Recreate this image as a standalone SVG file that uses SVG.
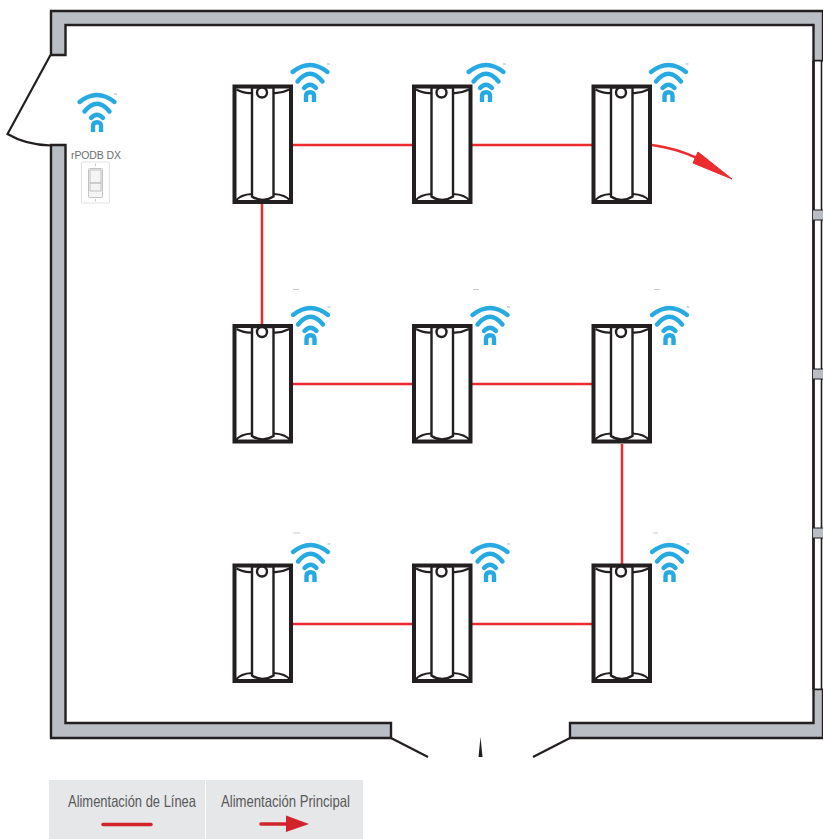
<svg xmlns="http://www.w3.org/2000/svg" width="823" height="839" viewBox="0 0 823 839">
<style>
.wall{fill:#b9bec5;stroke:#231f20;stroke-width:2.4;stroke-linejoin:miter}
.line{fill:none;stroke:#231f20;stroke-width:2.2}
.win{fill:none;stroke:#231f20}
.feed{fill:none;stroke:#ed2a2e;stroke-width:2.5}
.lum-o{fill:#fff;stroke:#231f20;stroke-width:4}
.lum-i{fill:#fff;stroke:#231f20;stroke-width:2.4}
.wf{fill:none;stroke:#27a9e1;stroke-width:4.400;stroke-linecap:round}
.wfn{fill:none;stroke:#27a9e1;stroke-width:4.400}
.tm{fill:none;stroke:#9fb8c6;stroke-width:1}
.tick{stroke:#bbbbbb;stroke-width:.8}
.lg{font-family:"Liberation Sans",sans-serif;font-size:16.500px;fill:#58595b}
.plate{fill:#fff;stroke:#d9dadb;stroke-width:.8}
.sw{fill:#f4f4f4;stroke:#b5b5b5;stroke-width:.8}
</style>
<defs>
<g id="lum">
<rect class="lum-o" x="2" y="2" width="56.500" height="115.500"/>
<path class="line" d="M4 5Q11 9 19.500 8.500M57 5Q49 9 41 8.500M3 116.500Q8 110 19.500 109.500M58 116.500Q53 110 41 109.500"/>
<path class="lum-i" d="M19.500 3V112Q30 119 41 112V3Z"/>
<circle class="lum-i" cx="29.500" cy="8" r="5"/>
</g>
<g id="wifi">
<path class="wf" d="M-17.500 9Q0 -5 17.500 9"/>
<path class="wf" d="M-12.500 18.500Q0 3 12.500 18.500"/>
<path class="wf" d="M-6 25Q0 18.500 6 25"/>
<path class="wfn" d="M-4 39V33Q-4 29.200 0 29.200Q4 29.200 4 33V39"/>
<path class="tm" d="M17 1H20"/>
</g>
</defs>

<g id="walls">
<path class="wall" d="M51 55V11H823V61H813.500V25H65.500V55Z"/>
<path class="wall" d="M51 145V738H391V723H65.500V145Z"/>
<path class="wall" d="M823 738H570V723H813.500V689H823Z"/>
<rect x="813" y="61" width="10" height="628" fill="#fff"/>
<path d="M821.500 61V689" class="win" stroke-width="1.600"/>
<path d="M813.500 61V689" class="win" stroke-width="2.800"/>
<rect x="813" y="210" width="10" height="10" fill="#b9bec5"/>
<rect x="813" y="369" width="10" height="10" fill="#b9bec5"/>
<rect x="813" y="528" width="10" height="10" fill="#b9bec5"/>
<path class="win" stroke-width="1" d="M813 61H823M813 210H823M813 220H823M813 369H823M813 379H823M813 528H823M813 538H823M813 689H823"/>
</g>

<g id="doors">
<path class="line" d="M50.500 55L7.500 134Q26 145 51 145.500"/>
<path class="line" d="M391 738L428 757"/>
<path class="line" d="M570 738L533 757"/>
<path d="M480.500 737L482.500 757H478.500Z" fill="#231f20"/>
</g>

<g id="connectors">
<path class="feed" d="M292 145H412M472 145H592M292 384H412M472 384H592M292 624H412M472 624H592M262 204V326M622 444V566"/>
<path class="feed" d="M652 145Q675 148 697 158"/>
<path d="M698 152L732 179L693 163Z" fill="#ed2a2e" stroke="#ed2a2e" stroke-linejoin="round"/>
</g>

<g id="node-r1c1"><use href="#lum" x="232.500" y="84.500"/><use href="#wifi" x="310" y="63"/></g>
<g id="node-r1c2"><use href="#lum" x="412" y="84.500"/><use href="#wifi" x="486" y="63"/></g>
<g id="node-r1c3"><use href="#lum" x="591.500" y="84.500"/><use href="#wifi" x="668.500" y="63"/></g>
<g id="node-r2c1"><use href="#lum" x="232.500" y="324"/><use href="#wifi" x="310.500" y="306"/><path class="tick" d="M293 289.500H299"/></g>
<g id="node-r2c2"><use href="#lum" x="412" y="324"/><use href="#wifi" x="490" y="306"/><path class="tick" d="M473 289.500H479"/></g>
<g id="node-r2c3"><use href="#lum" x="591.500" y="324"/><use href="#wifi" x="669.500" y="306"/><path class="tick" d="M654 289.500H660"/></g>
<g id="node-r3c1"><use href="#lum" x="232.500" y="563.500"/><use href="#wifi" x="310.500" y="543"/><path class="tick" d="M293 533H300"/></g>
<g id="node-r3c2"><use href="#lum" x="412" y="563.500"/><use href="#wifi" x="490" y="543"/></g>
<g id="node-r3c3"><use href="#lum" x="591.500" y="563.500"/><use href="#wifi" x="669.500" y="543"/><path class="tick" d="M653 533H658"/></g>

<g id="node-switch">
<use href="#wifi" x="97" y="93"/>
<text x="96" y="158.500" text-anchor="middle" font-family="'Liberation Sans',sans-serif" font-size="10.500" fill="#6d6e71" textLength="50" lengthAdjust="spacing">rPODB DX</text>
<rect class="plate" x="81.500" y="162" width="28" height="41" rx="1"/>
<rect class="sw" x="88.500" y="168.500" width="14" height="29" rx="1"/>
<path class="sw" d="M90 170H101V183H90ZM90 183H101V191H90Z"/>
<path class="tick" d="M95.500 163.500V166M95.500 199V201.500"/>
</g>

<g id="legend">
<rect x="49" y="780" width="314" height="59" fill="#e6e7e8"/>
<rect x="205" y="780" width="1" height="59" fill="#fff"/>
<text class="lg" x="68" y="807" textLength="128" lengthAdjust="spacingAndGlyphs">Alimentación de Línea</text>
<text class="lg" x="221" y="807" textLength="129" lengthAdjust="spacingAndGlyphs">Alimentación Principal</text>
<path d="M103 824.500H151" fill="none" stroke="#d2232a" stroke-width="3.500" stroke-linecap="round"/>
<path d="M261 824H288" fill="none" stroke="#d2232a" stroke-width="3.500" stroke-linecap="round"/>
<path d="M286 815.500L309 824L286 832Z" fill="#d2232a"/>
</g>
</svg>
